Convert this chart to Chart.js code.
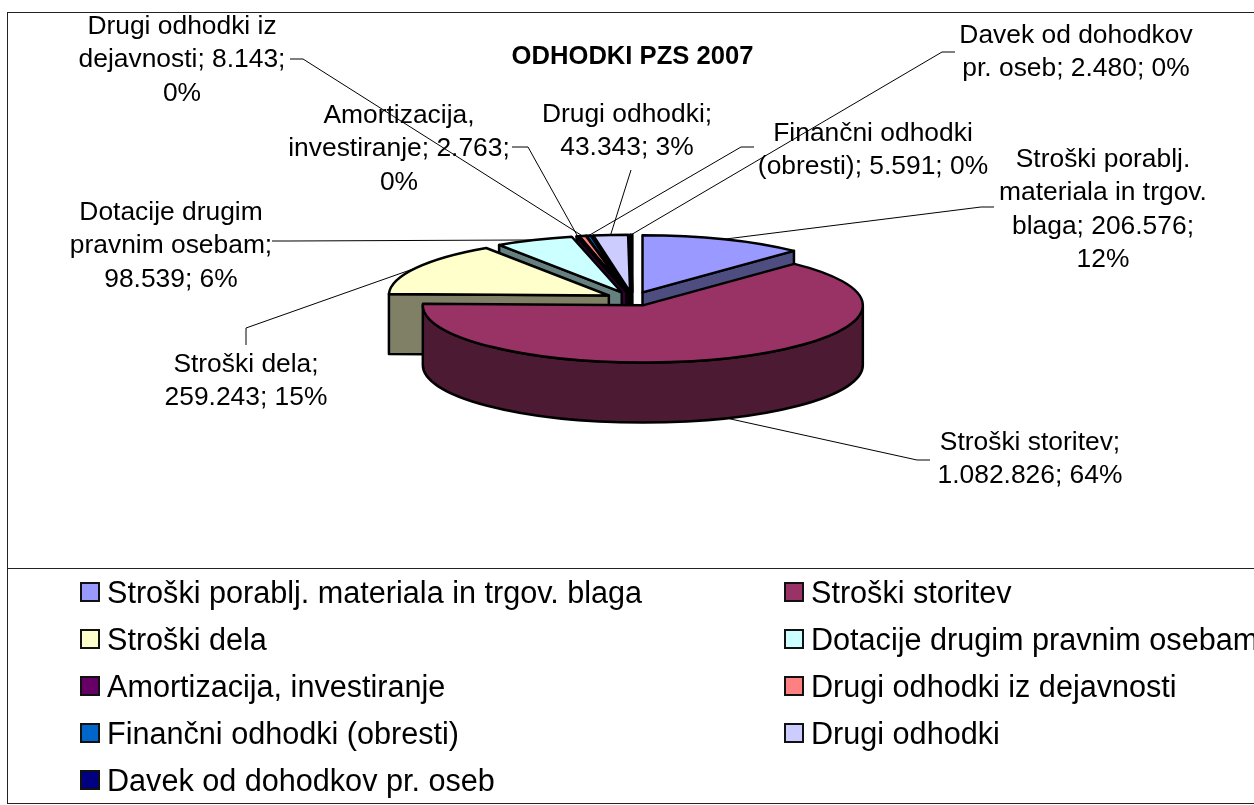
<!DOCTYPE html>
<html>
<head>
<meta charset="utf-8">
<title>Odhodki PZS 2007</title>
<script src="https://cdn.jsdelivr.net/npm/chart.js@4"></script>
<style>
  html, body { margin: 0; padding: 0; background: #fff; overflow: hidden; width: 1254px; height: 805px; }
  #chart { position: absolute; left: 0; top: 0; }
  #frame { position: absolute; left: 7px; top: 12px; width: 1270px; height: 790px; border: 1.5px solid #222; box-sizing: content-box; }
  #legendBox { position: absolute; left: 7px; top: 568px; width: 1270px; height: 0; border-top: 1.5px solid #222; }
  .leg { position: absolute; font: 30.6px "Liberation Sans", Arial, sans-serif; color: #000; white-space: nowrap; line-height: 30px; }
  .leg i { position: absolute; left: 0; top: 5px; width: 16px; height: 16px; border: 2.5px solid #111; }
  .leg span { position: absolute; left: 27px; top: 0; }
</style>
</head>
<body>
<div id="frame"></div>
<div id="legendBox"></div>
<canvas id="chart" width="1254" height="805"></canvas>
<div id="legend"></div>
<script>
const NAMES = ["Stroški porablj. materiala in trgov. blaga", "Stroški storitev", "Stroški dela",
  "Dotacije drugim pravnim osebam", "Amortizacija, investiranje", "Drugi odhodki iz dejavnosti",
  "Finančni odhodki (obresti)", "Drugi odhodki", "Davek od dohodkov pr. oseb"];
const VALUES = [206576, 1082826, 259243, 98539, 2763, 8143, 5591, 43343, 2480];
const COLORS = ["#9999FF", "#993366", "#FFFFCC", "#CCFFFF", "#660066", "#FF8080", "#0066CC", "#CCCCFF", "#000080"];
const SIDES = ["#4D4D80", "#4D1A33", "#808066", "#668080", "#330033", "#804040", "#003366", "#666680", "#000040"];
const LABELS = [
  ["Stroški porablj.", "materiala in trgov.", "blaga; 206.576;", "12%"],
  ["Stroški storitev;", "1.082.826; 64%"],
  ["Stroški dela;", "259.243; 15%"],
  ["Dotacije drugim", "pravnim osebam;", "98.539; 6%"],
  ["Amortizacija,", "investiranje; 2.763;", "0%"],
  ["Drugi odhodki iz", "dejavnosti; 8.143;", "0%"],
  ["Finančni odhodki", "(obresti); 5.591; 0%"],
  ["Drugi odhodki;", "43.343; 3%"],
  ["Davek od dohodkov", "pr. oseb; 2.480; 0%"],
];
// label centre x, first line centre y
const LABEL_POS = [[1103, 159.5], [1030, 442.5], [246, 364.5], [171, 212.5], [399, 115.5], [182, 26.5], [873, 133.5], [627, 114.5], [1076, 35.5]];
// leader polyline from the label towards the slice
const LEADERS = [
  [[994, 207], [981, 207]], [[930, 460], [917, 460]], [[246, 345], [246, 328]], [[272, 241], [288, 241]],
  [[512, 147], [528, 147]], [[290, 59], [303, 59]], [[754, 147], [741, 147]], [[631, 170]], [[955, 52], [942, 52]],
];
const LEGEND_POS = [[80, 577], [784, 577], [80, 624], [784, 624], [80, 671], [784, 671], [80, 718], [784, 718], [80, 765]];

const TILT = 0.26, DEPTH = 60, EXPLODE = 27, LINE_H = 33.4;
const FONT = '26.4px "Liberation Sans", Arial, sans-serif';

function wedge(el) {
  const mid = (el.startAngle + el.endAngle) / 2;
  return {
    x: el.x + EXPLODE * Math.cos(mid), y: el.y + EXPLODE * TILT * Math.sin(mid),
    r: el.outerRadius, ry: el.outerRadius * TILT, a0: el.startAngle, a1: el.endAngle, mid,
  };
}

function drawSide(ctx, w, a, color) {
  const px = w.x + w.r * Math.cos(a), py = w.y + w.ry * Math.sin(a);
  ctx.beginPath();
  ctx.moveTo(w.x, w.y); ctx.lineTo(px, py); ctx.lineTo(px, py + DEPTH); ctx.lineTo(w.x, w.y + DEPTH);
  ctx.closePath();
  ctx.fillStyle = color; ctx.fill(); ctx.stroke();
}

const pie3d = {
  id: "pie3d",
  beforeDatasetDraw(chart) {
    const ctx = chart.ctx, arcs = chart.getDatasetMeta(0).data;
    const wedges = arcs.map(wedge);
    // far slices first, the big front slice last
    const order = wedges.map((w, i) => i).sort((a, b) => Math.sin(wedges[a].mid) - Math.sin(wedges[b].mid));
    ctx.save();
    ctx.lineWidth = 2.5; ctx.strokeStyle = "#000"; ctx.lineJoin = "round";
    order.forEach(i => {
      const w = wedges[i];
      if (Math.cos(w.a0) < 0) drawSide(ctx, w, w.a0, SIDES[i]);
      if (Math.cos(w.a1) > 0) drawSide(ctx, w, w.a1, SIDES[i]);
      const f0 = Math.max(w.a0, 0), f1 = Math.min(w.a1, Math.PI);
      if (f1 > f0) {
        ctx.beginPath();
        ctx.ellipse(w.x, w.y, w.r, w.ry, 0, f0, f1);
        ctx.ellipse(w.x, w.y + DEPTH, w.r, w.ry, 0, f1, f0, true);
        ctx.closePath();
        ctx.fillStyle = SIDES[i]; ctx.fill(); ctx.stroke();
      }
      ctx.beginPath();
      ctx.moveTo(w.x, w.y);
      ctx.ellipse(w.x, w.y, w.r, w.ry, 0, w.a0, w.a1);
      ctx.closePath();
      ctx.fillStyle = COLORS[i]; ctx.fill(); ctx.stroke();
    });
    ctx.restore();
    return false;
  },
  afterDatasetsDraw(chart) {
    const ctx = chart.ctx, arcs = chart.getDatasetMeta(0).data;
    ctx.save();
    ctx.lineWidth = 1; ctx.strokeStyle = "#000";
    arcs.forEach((el, i) => {
      const w = wedge(el);
      // front slice leaves from the lower rim
      const drop = Math.sin(w.mid) > 0 ? DEPTH : 0;
      ctx.beginPath();
      LEADERS[i].forEach((p, k) => k ? ctx.lineTo(p[0], p[1]) : ctx.moveTo(p[0], p[1]));
      ctx.lineTo(w.x + w.r * Math.cos(w.mid), w.y + w.ry * Math.sin(w.mid) + drop);
      ctx.stroke();
    });
    ctx.fillStyle = "#000"; ctx.font = FONT; ctx.textAlign = "center"; ctx.textBaseline = "middle";
    LABELS.forEach((lines, i) => {
      lines.forEach((t, k) => ctx.fillText(t, LABEL_POS[i][0], LABEL_POS[i][1] + k * LINE_H));
    });
    ctx.restore();
  },
};

new Chart(document.getElementById("chart"), {
  type: "pie",
  data: { labels: NAMES, datasets: [{ data: VALUES, backgroundColor: COLORS, borderWidth: 0 }] },
  options: {
    responsive: false, animation: false, radius: 220,
    layout: { padding: { left: 11, right: 0, top: 0, bottom: 280 } },
    plugins: {
      legend: { display: false }, tooltip: { enabled: false },
      title: { display: true, text: "ODHODKI PZS 2007", color: "#000",
        font: { family: '"Liberation Sans", Arial, sans-serif', size: 25.6, weight: "bold" },
        padding: { top: 42, bottom: 0 } },
    },
  },
  plugins: [pie3d],
});

document.getElementById("legend").innerHTML = NAMES.map((n, i) =>
  `<div class="leg" style="left:${LEGEND_POS[i][0]}px;top:${LEGEND_POS[i][1]}px"><i style="background:${COLORS[i]}"></i><span>${n}</span></div>`
).join("");
</script>
</body>
</html>
